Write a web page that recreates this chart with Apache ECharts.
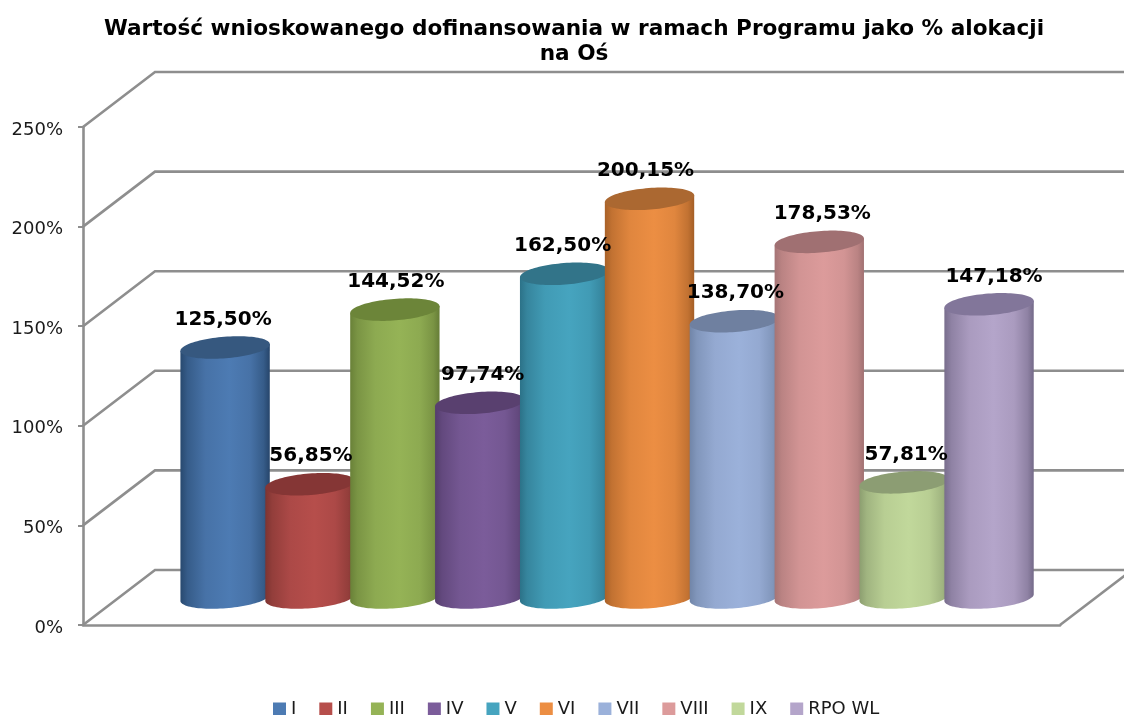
<!DOCTYPE html>
<html>
<head>
<meta charset="utf-8">
<style>html,body{margin:0;padding:0;background:#fff}#c{width:1124px;height:715px}</style>
<script src="https://cdn.jsdelivr.net/npm/echarts@6/dist/echarts.min.js"></script>
</head>
<body>
<div id="c"></div>
<script>
const seriesNames = ['I','II','III','IV','V','VI','VII','VIII','IX','RPO WL'];
const seriesValues = [125.50,56.85,144.52,97.74,162.50,200.15,138.70,178.53,57.81,147.18];
const axisTicks = [0,50,100,150,200,250];

const baseColors = ['#4d7bb3','#b64e4b','#95b356','#7b5c9a','#46a4bf','#ec8e43','#9bb1da','#dc9b9b','#c1d89b','#b4a5ca'];
const edgeColors = ['#1f3c5e','#6f2d2b','#5e7431','#4a3561','#25657a','#975621','#667a9b','#976a6b','#7f9065','#695f7d'];
const topColors  = ['#36587f','#853635','#6c8539','#59406f','#327489','#ab6831','#6f80a0','#a07072','#8c9d73','#82769a'];
const labelNudgeX = [-2,1,1,3,-2,-4,1,3,2,5];

const FONT = '"DejaVu Sans"';
const GRID_COLOR = '#8e8e8e';
const DEPTH = [72,-55];
const X_MIN = -1.25, X_MAX = 10.26;

function renderWall(params, api) {
  const v = api.value(0);
  const a = api.coord([X_MIN, v]);
  const b = api.coord([X_MAX, v]);
  const children = [];
  const pts = [[a[0],a[1]],[a[0]+DEPTH[0],a[1]+DEPTH[1]],[b[0]+DEPTH[0],b[1]+DEPTH[1]]];
  children.push({type:'polyline',shape:{points:pts},style:{stroke:GRID_COLOR,lineWidth:2.6,fill:'none'},z2:1});
  if (v === 0) {
    children.push({type:'polyline',shape:{points:[[b[0],b[1]],[b[0]+DEPTH[0],b[1]+DEPTH[1]]]},style:{stroke:GRID_COLOR,lineWidth:2.6,fill:'none'},z2:1});
  }
  return {type:'group',children};
}

function ellipsePoint(c, a, b, t) {
  const th = -4.5*Math.PI/180;
  const x = a*Math.cos(t), y = b*Math.sin(t);
  return [c[0]+x*Math.cos(th)-y*Math.sin(th), c[1]+x*Math.sin(th)+y*Math.cos(th)];
}

function makeRender(idx) {
  return function(params, api) {
    const xi = api.value(0), v = api.value(1);
    const p0 = api.coord([xi,0]), p1 = api.coord([xi,v]);
    const base = [p0[0]+DEPTH[0]/2, p0[1]+DEPTH[1]/2];
    const top = [p1[0]+DEPTH[0]/2, p1[1]+DEPTH[1]/2];
    const a = api.size([1,0])[0]*0.528, b = a*0.24;
    const body = [], lid = [];
    const N = 48;
    for (let k=0;k<=N;k++) body.push(ellipsePoint(base,a,b,Math.PI*k/N));
    body.push(ellipsePoint(top,a,b,Math.PI));
    body.push(ellipsePoint(top,a,b,0));
    for (let k=0;k<96;k++) lid.push(ellipsePoint(top,a,b,2*Math.PI*k/96));
    const mix = m => echarts.color.lerp(m,[edgeColors[idx],baseColors[idx]]);
    const grad = {type:'linear',x:0,y:0,x2:1,y2:0,colorStops:[
      {offset:0,color:mix(0.2)},
      {offset:0.08,color:mix(0.5)},
      {offset:0.28,color:mix(0.86)},
      {offset:0.55,color:baseColors[idx]},
      {offset:0.78,color:mix(0.86)},
      {offset:0.93,color:mix(0.5)},
      {offset:1,color:mix(0.15)}
    ]};
    const text = v.toFixed(2).replace('.',',')+'%';
    return {type:'group',children:[
      {type:'polygon',shape:{points:body},style:{fill:grad},z2:10+idx*2},
      {type:'polygon',shape:{points:lid},style:{fill:topColors[idx]},z2:11+idx*2},
      {type:'text',z2:100,style:{text,x:top[0]+labelNudgeX[idx],y:top[1]-28,align:'center',verticalAlign:'middle',
        font:'bold 20px '+FONT,fill:'#000'}}
    ]};
  };
}

const barSeries = seriesNames.map((name,i)=>({
  name,type:'custom',coordinateSystem:'cartesian2d',
  itemStyle:{color:baseColors[i]},
  encode:{x:0,y:1},
  data:[[i,seriesValues[i]]],
  renderItem:makeRender(i)
}));

const chart = echarts.init(document.getElementById('c'),null,{renderer:'canvas'});
chart.setOption({
  animation:false,
  backgroundColor:'#fff',
  textStyle:{fontFamily:FONT},
  title:{
    text:'Wartość wnioskowanego dofinansowania w ramach Programu jako % alokacji\nna Oś',
    left:569,top:12,textAlign:'center',
    textStyle:{fontFamily:FONT,fontSize:21.6,fontWeight:'bold',lineHeight:25,color:'#000'}
  },
  legend:{
    data:seriesNames,left:268,top:695,
    icon:'rect',itemWidth:13,itemHeight:13,itemGap:23,
    textStyle:{color:'#1a1a1a',fontSize:18,fontFamily:FONT}
  },
  grid:{left:83,right:64,top:127,bottom:90},
  xAxis:{type:'value',min:X_MIN,max:X_MAX,axisLabel:{show:false},axisTick:{show:false},splitLine:{show:false},
    axisLine:{show:true,onZero:false,lineStyle:{color:GRID_COLOR,width:2.6}}},
  yAxis:{type:'value',min:axisTicks[0],max:axisTicks[axisTicks.length-1],interval:50,
    axisLabel:{formatter:'{t|{value}%}',margin:20,rich:{t:{fontFamily:FONT,fontSize:18,color:'#1a1a1a',padding:[6,0,0,0]}}},
    axisTick:{show:true,length:5,lineStyle:{color:GRID_COLOR,width:2}},
    axisLine:{show:true,onZero:false,lineStyle:{color:GRID_COLOR,width:2.6}},
    splitLine:{show:false}},
  series:[{
    name:'siatka',type:'custom',coordinateSystem:'cartesian2d',
    encode:{y:0},
    data:axisTicks.map(v=>[v]),
    renderItem:renderWall,silent:true
  }].concat(barSeries)
});
</script>
</body>
</html>
